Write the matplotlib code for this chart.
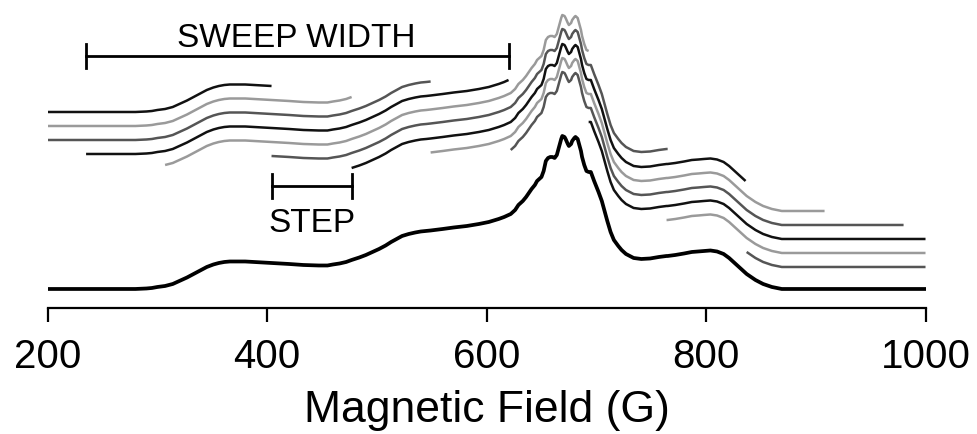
import matplotlib
matplotlib.use("Agg")
import matplotlib.pyplot as plt

plt.rcParams['font.family'] = ['Liberation Sans', 'DejaVu Sans']

# Base (full) spectrum: magnetic field (G) and intensity (arb. units, baseline 0)
field = [200, 235, 260, 280, 290, 295, 300, 307, 314, 320, 327, 333, 339, 345, 351, 356, 361, 366,
         373, 380, 388, 396, 404, 412, 420, 433, 447, 455, 460, 466, 472, 477, 484, 490, 496, 502,
         508, 513, 518, 523, 529, 535, 540, 545, 549, 560, 570, 582, 593, 602, 611, 616, 620, 622,
         626, 629, 633, 636, 641, 644, 646, 648, 650, 652, 654, 656, 658, 660, 662, 664, 666, 668,
         669, 671, 672, 674, 675, 677, 678, 680, 681, 683, 684, 686, 687, 689, 691, 693, 695, 698,
         702, 705, 707, 710, 713, 716, 720, 723, 727, 734, 741, 749, 757, 764, 765, 772, 780, 787,
         793, 798, 804, 810, 816, 821, 826, 831, 836, 837, 841, 845, 852, 860, 869, 880, 908, 940,
         980, 1000]
intensity = [0, 0, 0, 0, 0.5, 1, 2, 3, 5, 8, 11.5, 15, 18.5, 22, 24.5, 26, 27, 27.5,
             27.5, 27.5, 27, 26.5, 26, 25.5, 25, 24, 23.5, 23.5, 24.5, 25.5, 27, 29, 31.5, 34, 37, 40,
             43.5, 47, 50, 53, 55, 56.5, 57.5, 58, 58.5, 60, 61.5, 63, 65, 67, 70, 72, 74, 75,
             79, 84, 88, 92, 100, 104, 108, 110, 112, 118, 128, 131, 132, 132, 131, 134, 142, 150,
             153, 152, 150, 145, 143, 145, 148, 151, 152, 150, 146, 138, 132, 124, 118, 117, 117, 108,
             97, 88, 80, 68, 57, 49, 43, 39, 35, 31, 30, 30.5, 32, 33, 33, 34, 35.5, 37,
             37.5, 38, 38.5, 37.5, 35, 31, 26, 21, 16, 15, 12, 9, 5, 2, 0, 0, 0, 0,
             0, 0]

# Stepped sweeps: start/end field (G) and vertical offset of each sweep
sweep_start = [200, 200, 200, 235, 307, 404, 477, 549, 622, 693, 764, 837]
sweep_end = [404, 477, 549, 620, 693, 765, 836, 908, 980, 1000, 1000, 1000]
sweep_offset = [177, 163, 149, 135, 121, 107, 92, 78, 64, 50, 36, 22]
sweep_colors = ['#111111', '#9a9a9a', '#555555']

# Annotation bars
sweep_width_bar = [235, 620]
step_bar = [404, 477]

xticks = [200, 400, 600, 800, 1000]

fig = plt.figure(figsize=(9.77, 4.35), dpi=100)
ax = fig.add_axes([0.0488, 0.2897, 0.8985, 0.7103])

for i, (s, e, off) in enumerate(zip(sweep_start, sweep_end, sweep_offset)):
    xs = [f for f in field if s <= f <= e]
    ys = [v + off for f, v in zip(field, intensity) if s <= f <= e]
    ax.plot(xs, ys, color=sweep_colors[i % 3], lw=1.8, solid_capstyle='butt')

ax.plot(field, intensity, color='black', lw=2.7)

# SWEEP WIDTH bar
yb = 233
ax.plot(sweep_width_bar, [yb, yb], color='black', lw=2)
for xv in sweep_width_bar:
    ax.plot([xv, xv], [yb - 12, yb + 12], color='black', lw=2)
ax.text(sum(sweep_width_bar) / 2 - 1, 243, 'SWEEP WIDTH', ha='center', va='baseline', fontsize=24)

# STEP bar
ys_ = 103
ax.plot(step_bar, [ys_, ys_], color='black', lw=2)
for xv in step_bar:
    ax.plot([xv, xv], [ys_ - 12, ys_ + 12], color='black', lw=2)
ax.text(sum(step_bar) / 2, 58, 'STEP', ha='center', va='baseline', fontsize=24)

ax.set_xlim(200, 1000)
ax.set_ylim(-19, 290)
for sp in ['top', 'right', 'left']:
    ax.spines[sp].set_visible(False)
ax.spines['bottom'].set_linewidth(1.6)
ax.set_yticks([])
ax.set_xticks(xticks)
ax.set_xticklabels([str(t) for t in xticks])
ax.tick_params(axis='x', direction='out', length=10, width=1.6, labelsize=29, pad=11)
ax.set_xlabel('Magnetic Field (G)', fontsize=32, labelpad=10)

fig.savefig('out.png', dpi=100)
